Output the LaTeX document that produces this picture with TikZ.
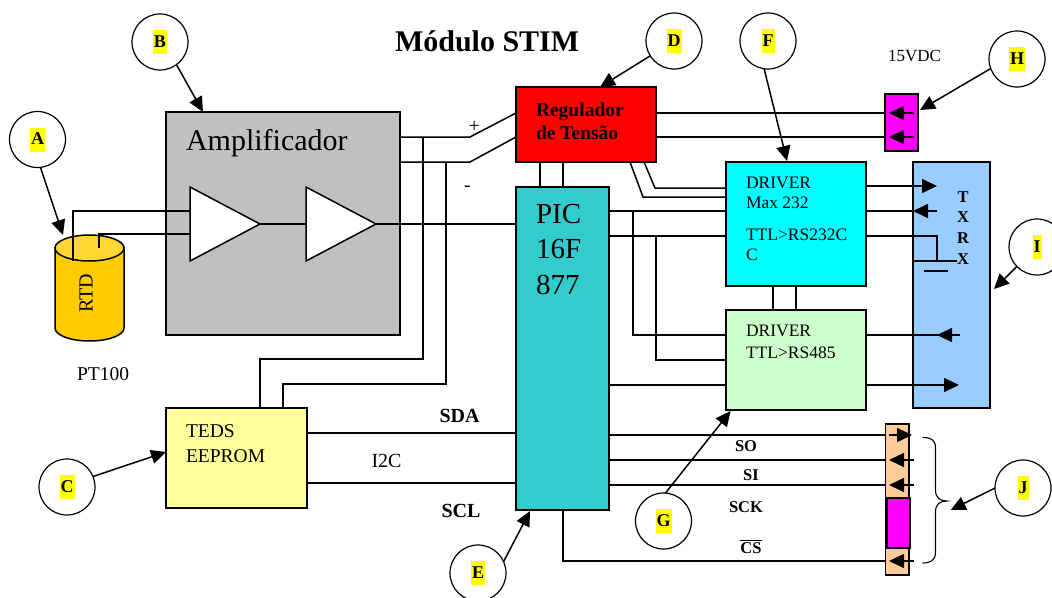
\documentclass[tikz,border=0pt]{standalone}
\usepackage{fontspec}
\setmainfont{Liberation Serif}
\usetikzlibrary{arrows.meta}
\definecolor{ampgray}{RGB}{192,192,192}
\definecolor{rtdgold}{RGB}{255,204,0}
\definecolor{rtdtop}{RGB}{255,214,51}
\definecolor{pricteal}{RGB}{51,204,204}
\definecolor{drvgreen}{RGB}{204,255,204}
\definecolor{txblue}{RGB}{153,204,255}
\definecolor{tedsyel}{RGB}{255,255,153}
\definecolor{conorange}{RGB}{255,204,153}
\definecolor{pureyellow}{RGB}{255,255,0}
\definecolor{purered}{RGB}{255,0,0}
\definecolor{purecyan}{RGB}{0,255,255}
\definecolor{puremagenta}{RGB}{255,0,255}
\newcommand{\hilite}[1]{{\setlength{\fboxsep}{1pt}\colorbox{pureyellow}{\rule[-6pt]{0pt}{22pt}\bfseries #1}}}
\newcommand{\fs}[1]{\fontsize{#1}{#1}\selectfont}
\tikzset{
  wire/.style={line width=1.5pt,line join=miter},
  pointer/.style={wire,-{Triangle[length=15pt,width=14pt]}},
  box/.style={draw=black,line width=1.5pt,inner sep=0pt,outer sep=0pt},
  callout/.style={draw=black,fill=white,circle,line width=1.2pt,minimum size=56pt,inner sep=0pt,outer sep=0pt,font=\fs{18}},
  txt/.style={inner sep=0pt,outer sep=0pt,anchor=base west,font=\fs{19.5}},
  drvtxt/.style={txt,font=\fs{17.5}},
  boldtxt/.style={inner sep=0pt,outer sep=0pt,anchor=base,font=\fs{16.5}\bfseries},
  boldbig/.style={boldtxt,font=\fs{20}\bfseries},
}
\begin{document}
\begin{tikzpicture}[x=1pt,y=-1pt]
\useasboundingbox (0,0) rectangle (1052,597);

% boxes
\node[box,fill=ampgray,minimum width=234pt,minimum height=223pt] (amp) at (283,223.5) {};
\node[box,fill=purered,minimum width=140pt,minimum height=75pt] (reg) at (586,124.5) {};
\node[box,fill=pricteal,minimum width=93pt,minimum height=323pt] (pic) at (562.5,348.5) {};
\node[box,fill=purecyan,minimum width=140pt,minimum height=124pt] (drva) at (796,224) {};
\node[box,fill=drvgreen,minimum width=140pt,minimum height=100pt] (drvb) at (796,360) {};
\node[box,fill=txblue,minimum width=77pt,minimum height=246pt] (trx) at (951.5,285) {};
\node[box,fill=tedsyel,minimum width=141pt,minimum height=100pt] (teds) at (236.5,458) {};
\node[box,fill=puremagenta,minimum width=33pt,minimum height=57pt] (pwr) at (901.5,122.5) {};
\node[box,fill=conorange,minimum width=23.5pt,minimum height=151pt] (spi) at (897.25,499.5) {};
\node[box,fill=puremagenta,minimum width=23pt,minimum height=50pt] (spim) at (898.5,523) {};

% RTD cylinder
\draw[box,fill=rtdgold] (55,248) -- (55,328) arc[start angle=180,end angle=0,x radius=34.5,y radius=13] -- (124,248) -- cycle;
\draw[box,fill=rtdtop] (89.5,248) ellipse[x radius=34.5,y radius=13];
\node[rotate=90,inner sep=0pt,font=\fs{20}] (rtd) at (86,293) {RTD};
\node[txt] (pt) at (77,380) {PT100};

% amplifier triangles
\coordinate (aina) at (190,211);
\coordinate (ainb) at (190,234);
\coordinate (aout) at (260,224);
\coordinate (bin) at (306,224);
\coordinate (bout) at (376,224);
\coordinate (rtda) at (73,261);
\coordinate (rtdb) at (99,248);
\draw[wire] (rtda) |- (aina);
\draw[wire] (rtdb) |- (ainb);
\draw[wire,fill=white] (190,187) -- (aout) -- (190,261) -- cycle;
\draw[wire,fill=white] (306,187) -- (bout) -- (306,261) -- cycle;
\draw[wire] (aout) -- (bin);
\draw[wire] (bout) -- (pic.west |- bout);

% power lines
\coordinate (kp) at (470,137);
\coordinate (km) at (470,162);
\draw[wire] (amp.east |- kp) -- (kp) -- (reg.west |- 0,113);
\draw[wire] (amp.east |- km) -- (km) -- (reg.west |- 0,137);
\draw[wire] (423,137) -- (423,359) -- (260,359) -- (teds.north -| 260,0);
\draw[wire] (446,162) -- (446,384) -- (283,384) -- (teds.north -| 283,0);
\draw[wire] (reg.south -| 540,0) -- (pic.north -| 540,0);
\draw[wire] (reg.south -| 563,0) -- (pic.north -| 563,0);
\draw[wire] (reg.south -| 644,0) -- (655,188) -- (drva.west |- 0,188);
\draw[wire] (reg.south -| 630,0) -- (643,197) -- (drva.west |- 0,197);
\draw[wire] (reg.east |- 0,113) -- (pwr.west |- 0,113);
\draw[wire] (reg.east |- 0,137) -- (pwr.west |- 0,137);
\draw[pointer] (914,113) -- (889,113);
\draw[pointer] (914,137) -- (889,137);

% PIC to drivers
\draw[wire] (pic.east |- 0,211) -- (drva.west |- 0,211);
\draw[wire] (pic.east |- 0,236) -- (drva.west |- 0,236);
\draw[wire] (633,211) |- (drvb.west |- 0,335);
\draw[wire] (656,236) |- (drvb.west |- 0,360);
\draw[wire] (pic.east |- 0,385) -- (drvb.west |- 0,385);
\draw[wire] (drva.south -| 773,0) -- (drvb.north -| 773,0);
\draw[wire] (drva.south -| 796,0) -- (drvb.north -| 796,0);

% drivers to TRX
\draw[pointer] (drva.east |- 0,186) -- (937,186);
\draw[wire] (drva.east |- 0,211) -- (trx.west |- 0,211);
\draw[pointer] (937,211) -- (trx.west |- 0,211);
\draw[wire] (drva.east |- 0,236) -- (937,236) -- (937,261);
\draw[wire] (trx.west |- 0,261) -- (957,261);
\draw[wire] (924,271) -- (948,271);
\draw[wire] (drvb.east |- 0,335) -- (960,335);
\draw[pointer] (960,335) -- (937,335);
\draw[pointer] (drvb.east |- 0,385) -- (959,385);

% I2C and SPI
\draw[wire] (teds.east |- 0,433) -- (pic.west |- 0,433);
\draw[wire] (teds.east |- 0,483) -- (pic.west |- 0,483);
\draw[wire] (pic.east |- 0,435) -- (spi.west |- 0,435);
\draw[wire] (pic.east |- 0,460) -- (spi.west |- 0,460);
\draw[wire] (pic.east |- 0,485) -- (spi.west |- 0,485);
\draw[wire] (pic.south -| 563,0) |- (spi.west |- 0,561);
\draw[pointer] (889,435) -- (912,435);
\draw[pointer] (914,460) -- (889,460);
\draw[pointer] (914,485) -- (889,485);
\draw[pointer] (914,561) -- (889,561);

% brace
\draw[line width=1.1pt] (922.5,437.5) .. controls (930,437.5) and (935.5,439) .. (935.5,448) -- (935.5,490) .. controls (935.5,498) and (940,501) .. (947,501) .. controls (940,501) and (935.5,504) .. (935.5,512) -- (935.5,552) .. controls (935.5,561) and (930,563) .. (922.5,563);

% texts
\node[txt,font=\fs{30}\bfseries] (title) at (395,51) {Módulo STIM};
\node[txt,font=\fs{17}] (vdc) at (888,61) {15VDC};
\node[txt,font=\fs{20}] (plus) at (468.5,132) {+};
\node[txt,font=\fs{20}] (minus) at (464,191) {-};
\node[txt,font=\fs{30}] (ampt) at (186,150) {Amplificador};
\node[txt,font=\fs{19.5}\bfseries] (rega) at (536,116.7) {Regulador};
\node[txt,font=\fs{19.5}\bfseries] (regb) at (536,139.3) {de Tensão};
\node[txt,font=\fs{29}] (pica) at (536,223) {PIC};
\node[txt,font=\fs{29}] (picb) at (536,258) {16F};
\node[txt,font=\fs{29}] (picc) at (536,294) {877};
\node[drvtxt] (da) at (746,188) {DRIVER};
\node[drvtxt] (db) at (746,208) {Max 232};
\node[drvtxt] (dc) at (746,240.7) {TTL>RS232C};
\node[drvtxt] (dd) at (746,260) {C};
\node[drvtxt] (de) at (746,336.5) {DRIVER};
\node[drvtxt] (df) at (746,358) {TTL>RS485};
\node[txt] (ta) at (186,437) {TEDS};
\node[txt] (tb) at (186,462) {EEPROM};
\node[boldtxt] (rt) at (963,202) {T};
\node[boldtxt] (rx) at (963,222) {X};
\node[boldtxt] (rr) at (963,243) {R};
\node[boldtxt] (rq) at (963,264) {X};
\node[boldbig] (sda) at (459.5,422) {SDA};
\node[txt,anchor=base,font=\fs{20}] (itc) at (386.5,467) {I2C};
\node[boldbig] (scl) at (461,517) {SCL};
\node[boldtxt] (so) at (746,451) {SO};
\node[boldtxt] (si) at (751,480) {SI};
\node[boldtxt] (sck) at (746,512) {SCK};
\node[boldtxt] (cs) at (751,553) {$\overline{\mbox{CS}}$};

% callouts
\node[callout] (A) at (37.5,139.5) {\hilite{A}};
\node[callout] (B) at (160,42) {\hilite{B}};
\node[callout] (C) at (67,487) {\hilite{C}};
\node[callout] (D) at (674,41) {\hilite{D}};
\node[callout] (E) at (478,573) {\hilite{E}};
\node[callout] (F) at (768,41) {\hilite{F}};
\node[callout] (G) at (663.5,521) {\hilite{G}};
\node[callout] (H) at (1017,59) {\hilite{H}};
\node[callout] (I) at (1037,247) {\hilite{I}};
\node[callout] (J) at (1023,488) {\hilite{J}};

\draw[pointer] (A.-84) -- (63,235);
\draw[pointer] (B.-54) -- (203,112);
\draw[pointer] (C.22) -- (teds.west |- 0,452);
\draw[pointer] (D.212) -- (600,87);
\draw[pointer] (E.24) -- (530,511);
\draw[pointer] (F.-98) -- (787,161);
\draw[pointer] (G.86) -- (730.6,411);
\draw[pointer] (H.200) -- (920,110);
\draw[pointer] (I.224) -- (994,289);
\draw[pointer] (J.180) -- (950.7,510);
\end{tikzpicture}
\end{document}
